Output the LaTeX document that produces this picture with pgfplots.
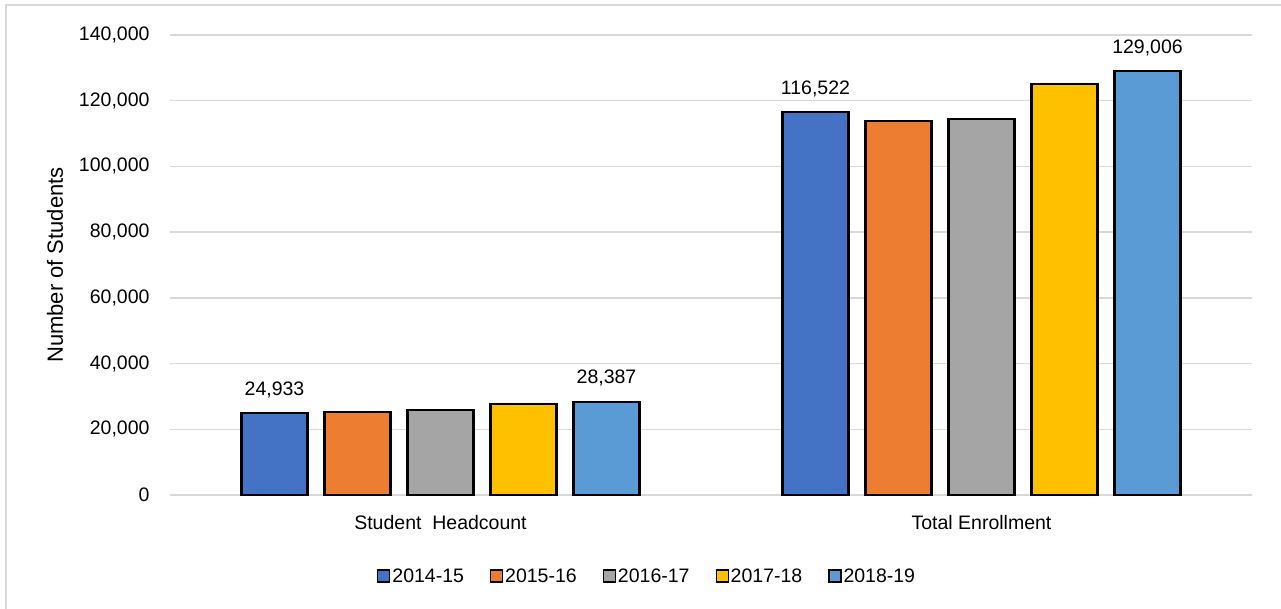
\documentclass[border=0pt]{standalone}
\usepackage{pgfplots}
\pgfplotsset{compat=1.18}
\usepackage{fontspec}
\setmainfont{Liberation Sans}
\definecolor{c1}{HTML}{4472C4}
\definecolor{c2}{HTML}{ED7D31}
\definecolor{c3}{HTML}{A5A5A5}
\definecolor{c4}{HTML}{FFC000}
\definecolor{c5}{HTML}{5B9BD5}
\definecolor{gridc}{HTML}{D9D9D9}
\begin{document}
\begin{tikzpicture}[x=1pt,y=1pt]
\useasboundingbox (0,0) rectangle (1281,609);
\fill[white] (0,0) rectangle (1281,609);
\draw[gridc, line width=1.5pt] (6,0) -- (6,604) -- (1281,604);
\begin{axis}[
  at={(170pt,114pt)}, anchor=origin,
  scale only axis, width=1082pt, height=460pt,
  xmin=0, xmax=2, ymin=0, ymax=140000,
  ybar=17pt, bar width=66pt,
  axis line style={draw=none},
  major tick length=0pt,
  ymajorgrids, grid style={gridc, line width=1.5pt},
  xtick={0.5,1.5},
  xticklabels={Student~ Headcount, Total Enrollment},
  ytick={0,20000,40000,60000,80000,100000,120000,140000},
  yticklabels={0,{20,000},{40,000},{60,000},{80,000},{100,000},{120,000},{140,000}},
  scaled y ticks=false,
  font=\fontsize{19.5}{23}\selectfont,
  tick label style={font=\fontsize{19.5}{23}\selectfont},
  yticklabel style={xshift=-17pt},
  xticklabel style={yshift=-17pt},
  ylabel={Number of Students},
  ylabel style={at={(axis description cs:-0.1063,0.5)}, anchor=center, font=\fontsize{22}{26}\selectfont},
  every node near coord/.append style={font=\fontsize{19.5}{23}\selectfont, yshift=11pt, black},
  legend columns=5,
  legend style={draw=none, at={(0.441,-0.176)}, anchor=center, font=\fontsize{19.5}{23}\selectfont,
    /tikz/every even column/.append style={column sep=24pt},
    /tikz/every odd column/.append style={column sep=0pt}},
  legend image code/.code={\draw[#1, line width=1.2pt] (0pt,-6pt) rectangle (12pt,6pt);},
  clip=false,
]
\addplot[draw=black, line width=2.2pt, fill=c1, point meta=explicit symbolic, nodes near coords] coordinates {(0.5,24933) [{24,933}] (1.5,116522) [{116,522}]};
\addplot[draw=black, line width=2.2pt, fill=c2] coordinates {(0.5,25200) (1.5,113800)};
\addplot[draw=black, line width=2.2pt, fill=c3] coordinates {(0.5,25800) (1.5,114400)};
\addplot[draw=black, line width=2.2pt, fill=c4] coordinates {(0.5,27800) (1.5,125200)};
\addplot[draw=black, line width=2.2pt, fill=c5, point meta=explicit symbolic, nodes near coords] coordinates {(0.5,28387) [{28,387}] (1.5,129006) [{129,006}]};
\legend{2014-15,2015-16,2016-17,2017-18,2018-19}
\end{axis}
\end{tikzpicture}
\end{document}
